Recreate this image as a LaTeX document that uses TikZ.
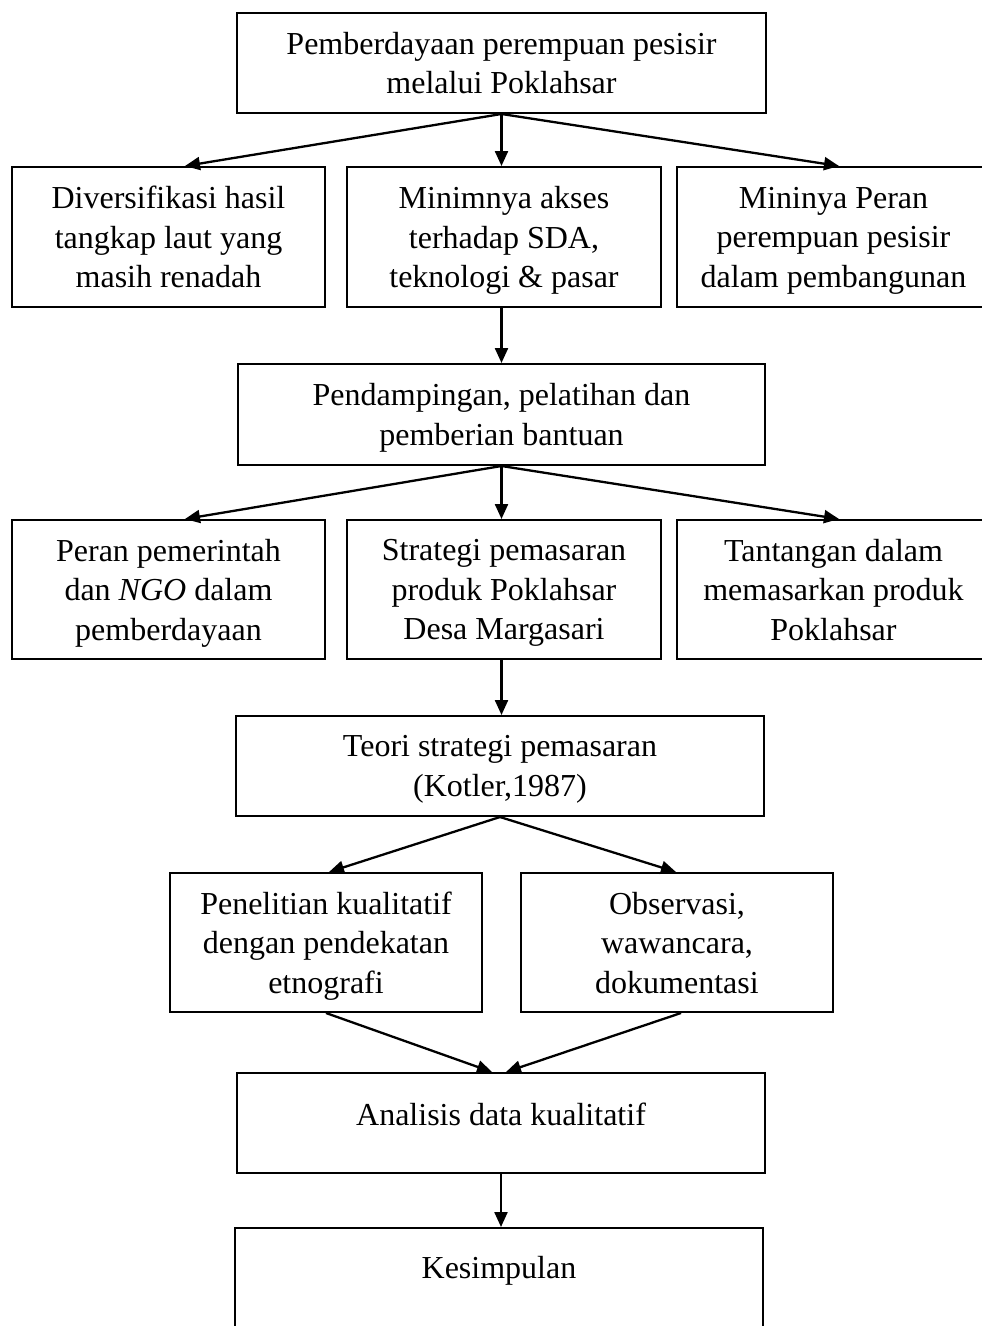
\documentclass[tikz,border=0pt]{standalone}
\usepackage{fontspec}
\setmainfont{Liberation Serif}
\usetikzlibrary{arrows.meta}
\begin{document}
\begin{tikzpicture}[x=1pt,y=-1pt,
  box/.style={draw=black,line width=2pt,rectangle,inner sep=0pt,align=center,
    font=\fontsize{32}{39.5}\selectfont,text depth=0pt},
  txt/.style={inner sep=0pt,align=center,font=\fontsize{32}{39.5}\selectfont},
  arr/.style={line width=2.3pt,-{Triangle[length=15pt,width=13pt]}}]
\useasboundingbox (0,0) rectangle (982,1326);
\clip (0,0) rectangle (982,1326);
\fill[white] (0,0) rectangle (982,1326);
% top
\node[box,minimum width=529pt,minimum height=100pt] (top) at (501.5,63) {Pemberdayaan perempuan pesisir\\melalui Poklahsar};
% row 1
\node[box,minimum width=313pt,minimum height=140pt] (a1) at (168.5,237) {Diversifikasi hasil\\tangkap laut yang\\masih renadah};
\node[box,minimum width=314pt,minimum height=140pt] (a2) at (504,237) {Minimnya akses\\terhadap SDA,\\teknologi \& pasar};
\node[box,minimum width=313pt,minimum height=140pt] (a3) at (833.5,237) {Mininya Peran\\perempuan pesisir\\dalam pembangunan};
% second
\node[box,minimum width=527pt,minimum height=101pt] (mid) at (501.5,414.5) {Pendampingan, pelatihan dan\\pemberian bantuan};
% row 2
\node[box,minimum width=313pt,minimum height=139pt] (b1) at (168.5,589.5) {Peran pemerintah\\dan \textit{NGO} dalam\\pemberdayaan};
\node[box,minimum width=314pt,minimum height=139pt] (b2) at (504,589.5) {Strategi pemasaran\\produk Poklahsar\\Desa Margasari};
\node[box,minimum width=313pt,minimum height=139pt] (b3) at (833.5,589.5) {Tantangan dalam\\memasarkan produk\\Poklahsar};
% third
\node[box,minimum width=528pt,minimum height=100pt] (teori) at (500,766) {Teori strategi pemasaran\\(Kotler,1987)};
% row 3
\node[box,minimum width=312pt,minimum height=139pt] (c1) at (326,942.5) {Penelitian kualitatif\\dengan pendekatan\\etnografi};
\node[box,minimum width=312pt,minimum height=139pt] (c2) at (677,942.5) {Observasi,\\wawancara,\\dokumentasi};
% analysis
\node[box,minimum width=528pt,minimum height=100pt] (ana) at (501,1123) {};
\node[txt] (anat) at (501,1114) {Analisis data kualitatif};
% conclusion
\node[box,minimum width=528pt,minimum height=102pt] (kes) at (499,1279) {};
\node[txt] (kest) at (499,1271) {Kesimpulan};
% arrows
\draw[arr] (top.south) -- ([xshift=16.5pt]a1.north);
\draw[arr] (top.south) -- (top.south |- a2.north);
\draw[arr] (top.south) -- ([xshift=5.5pt]a3.north);
\draw[arr] (a2.south -| top.south) -- (mid.north);
\draw[arr] (mid.south) -- ([xshift=16.5pt]b1.north);
\draw[arr] (mid.south) -- (mid.south |- b2.north);
\draw[arr] (mid.south) -- ([xshift=5.5pt]b3.north);
\draw[arr] (b2.south -| mid.south) -- (teori.north -| mid.south);
\draw[arr] (teori.south) -- ([xshift=3pt]c1.north);
\draw[arr] (teori.south) -- ([xshift=-1pt]c2.north);
\draw[arr] (c1.south) -- ([xshift=-9pt]ana.north);
\draw[arr] ([xshift=4pt]c2.south) -- ([xshift=5pt]ana.north);
\draw[arr] (ana.south) -- (ana.south |- kes.north);
\end{tikzpicture}
\end{document}
